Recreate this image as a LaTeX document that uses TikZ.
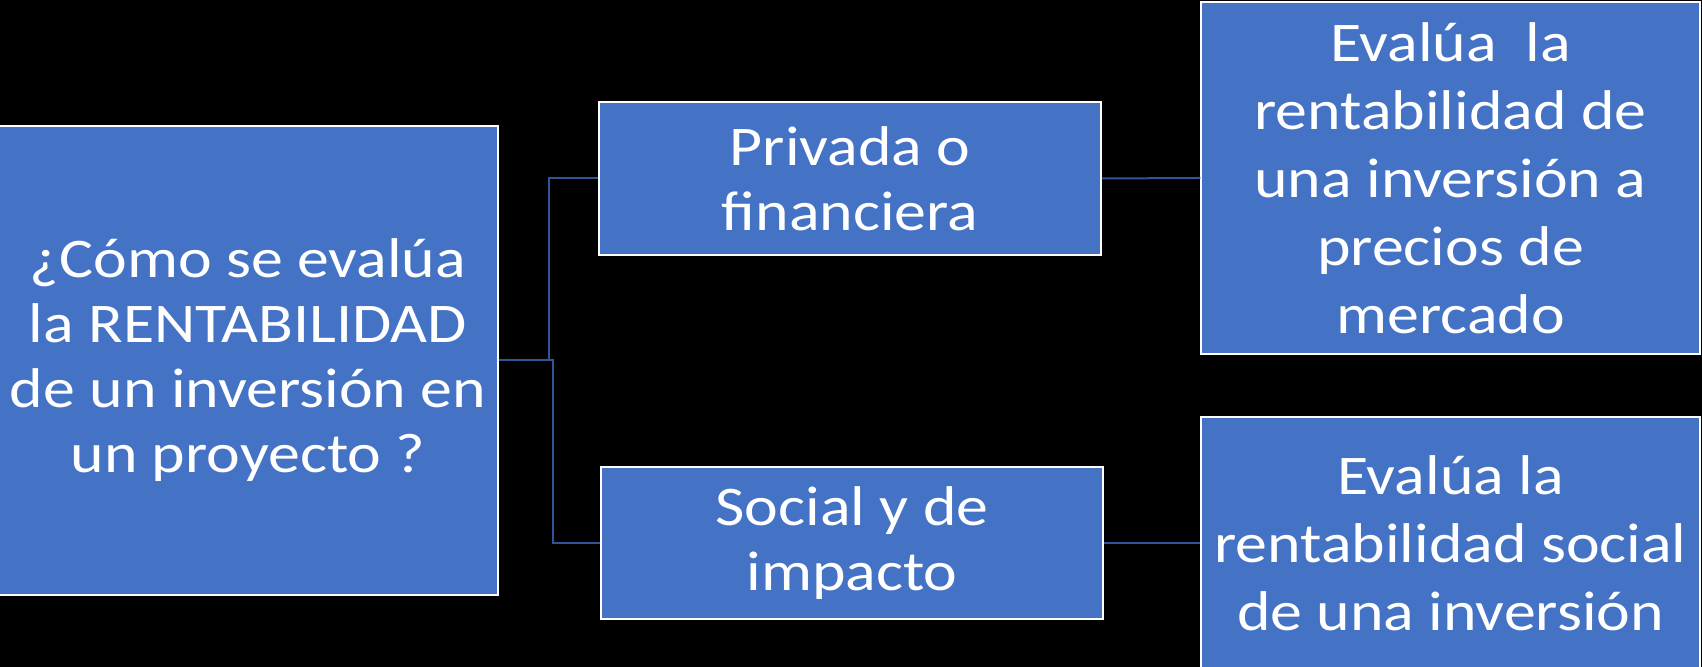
\documentclass[tikz,border=0pt]{standalone}
\usepackage{fontspec}
\setmainfont{Carlito}[FakeStretch=1.14]
\definecolor{azul}{HTML}{4472C4}
\definecolor{linea}{HTML}{2F5597}
\begin{document}
\begin{tikzpicture}[x=1pt, y=1pt,
	caja/.style={draw=white, line width=0.75pt, fill=azul, text=white,
		align=center, inner sep=0pt, font=\fontsize{28}{32.5}\selectfont},
	cajader/.style={caja, font=\fontsize{28}{34}\selectfont},
	enlace/.style={draw=linea, line width=1pt}]
	\fill[black] (0,0) rectangle (851,333.5);
	\useasboundingbox (0,0) rectangle (851,333.5);

	\node[caja, minimum width=250pt, minimum height=234.5pt] (pregunta) at (124,153.25)
		{¿Cómo se evalúa\\la RENTABILIDAD\\de un inversión en\\un proyecto ?};
	\node[caja, minimum width=251pt, minimum height=76.5pt] (privada) at (425,244.25)
		{Privada o\\financiera};
	\node[caja, minimum width=251pt, minimum height=76pt] (social) at (426,62)
		{Social y de\\impacto};
	\node[cajader, minimum width=249.5pt, minimum height=176pt] (evalprivada) at (725.25,244.5)
		{Evalúa~~la\\rentabilidad de\\una inversión a\\precios de\\mercado};
	\node[cajader, minimum width=249.5pt, minimum height=126pt] (evalsocial) at (725.25,62)
		{Evalúa la\\rentabilidad social\\de una inversión};

	\draw[enlace] (pregunta.east) -- ++(25,0) |- (privada.west);
	\draw[enlace] (pregunta.east) -- ++(27,0) |- (social.west);
	\draw[enlace] (privada.east) -- (evalprivada.west);
	\draw[enlace] (social.east) -- (evalsocial.west);
\end{tikzpicture}
\end{document}
